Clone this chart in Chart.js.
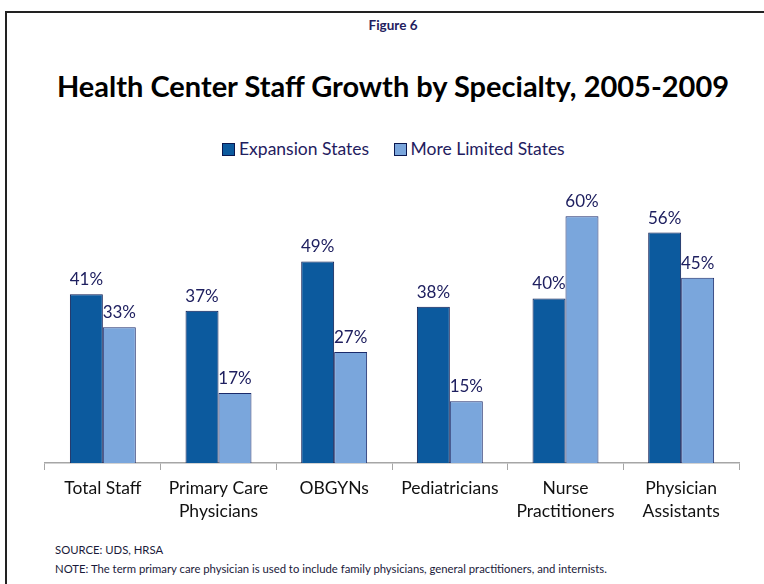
<!DOCTYPE html>
<html>
<head>
<meta charset="utf-8">
<script src="https://cdn.jsdelivr.net/npm/chart.js@4/dist/chart.umd.min.js"></script>
<style>
  body { margin: 0; background: #fff; font-family: Lato, "Open Sans", sans-serif; }
  #page { position: relative; width: 764px; height: 584px; overflow: hidden; }
  #frame { position: absolute; left: 5px; top: 11px; width: 800px; height: 600px; border-left: 2px solid #222; border-top: 2px solid #222; }
  #fig { position: absolute; top: 17px; width: 786px; text-align: center; font-size: 13.5px; font-weight: bold; color: #1f2060; }
  #title { position: absolute; top: 68px; width: 786px; text-align: center; font-size: 29px; font-weight: bold; color: #000; }
  #legend { position: absolute; top: 138px; left: 222px; font-size: 17.5px; color: #1f2060; white-space: nowrap; }
  #legend span.box { display: inline-block; width: 11px; height: 11px; border: 1px solid #0a1850; margin-right: 4px; vertical-align: -1px; }
  #legend span.item { margin-right: 20px; }
  .note { position: absolute; left: 55px; font-size: 11.3px; color: #1a1a3a; }
  #wrap { position: absolute; left: 0; top: 0; width: 764px; height: 584px; }
</style>
</head>
<body>
<div id="page">
  <div id="frame"></div>
  <div id="fig">Figure 6</div>
  <div id="title">Health Center Staff Growth by Specialty, 2005-2009</div>
  <div id="legend">
    <span class="item"><span class="box" style="background:#0c5a9e"></span>Expansion States</span>
    <span class="item"><span class="box" style="background:#7aa6dc"></span>More Limited States</span>
  </div>
  <div class="note" style="top:543px">SOURCE: UDS, HRSA</div>
  <div class="note" style="top:562px">NOTE: The term primary care physician is used to include family physicians, general practitioners, and internists.</div>
  <div id="wrap"><canvas id="chart"></canvas></div>
</div>
<script>
// Données
const categories = [
  'Total Staff',
  ['Primary Care', 'Physicians'],
  'OBGYNs',
  'Pediatricians',
  ['Nurse', 'Practitioners'],
  ['Physician', 'Assistants']
];
const expansionStates = [41, 37, 49, 38, 40, 56];
const limitedStates = [33, 17, 27, 15, 60, 45];
const seriesNames = ['Expansion States', 'More Limited States'];

// Plugin maison pour afficher les pourcentages au-dessus des barres
const barLabels = {
    id: 'barLabels',
    afterDatasetsDraw(chart) {
        const ctx = chart.ctx;
        ctx.save();
        ctx.font = '17px Lato, "Open Sans", sans-serif';
        ctx.fillStyle = '#1f2060';
        ctx.textAlign = 'center';
        ctx.textBaseline = 'alphabetic';
        chart.data.datasets.forEach((ds, i) => {
            chart.getDatasetMeta(i).data.forEach((bar, j) => {
                ctx.fillText(ds.data[j] + '%', bar.x, bar.y - 9);
            });
        });
        ctx.restore();
    }
};

new Chart(document.getElementById('chart'), {
    type: 'bar',
    data: {
        labels: categories,
        datasets: [{
            label: seriesNames[0],
            data: expansionStates,
            backgroundColor: '#0c5a9e',
            borderColor: '#0a1850',
            borderWidth: 1
        }, {
            label: seriesNames[1],
            data: limitedStates,
            backgroundColor: '#7aa6dc',
            borderColor: '#1a2a6a',
            borderWidth: 1
        }]
    },
    options: {
        responsive: true,
        maintainAspectRatio: false,
        animation: false,
        layout: {
            padding: { left: 45, right: 25, top: 175, bottom: 61 }
        },
        datasets: {
            bar: { categoryPercentage: 0.57, barPercentage: 1 }
        },
        plugins: {
            legend: { display: false },
            tooltip: { enabled: false }
        },
        scales: {
            y: {
                display: false,
                min: 0,
                max: 70
            },
            x: {
                afterFit(scale) { scale.height = 60; },
                grid: {
                    drawOnChartArea: false,
                    color: '#a6a6a6',
                    tickLength: 7
                },
                border: { color: '#a6a6a6', width: 1.5 },
                ticks: {
                    color: '#111',
                    padding: 7,
                    font: { family: 'Lato, "Open Sans", sans-serif', size: 17.5, lineHeight: 1.3 }
                }
            }
        }
    },
    plugins: [barLabels]
});
</script>
</body>
</html>
